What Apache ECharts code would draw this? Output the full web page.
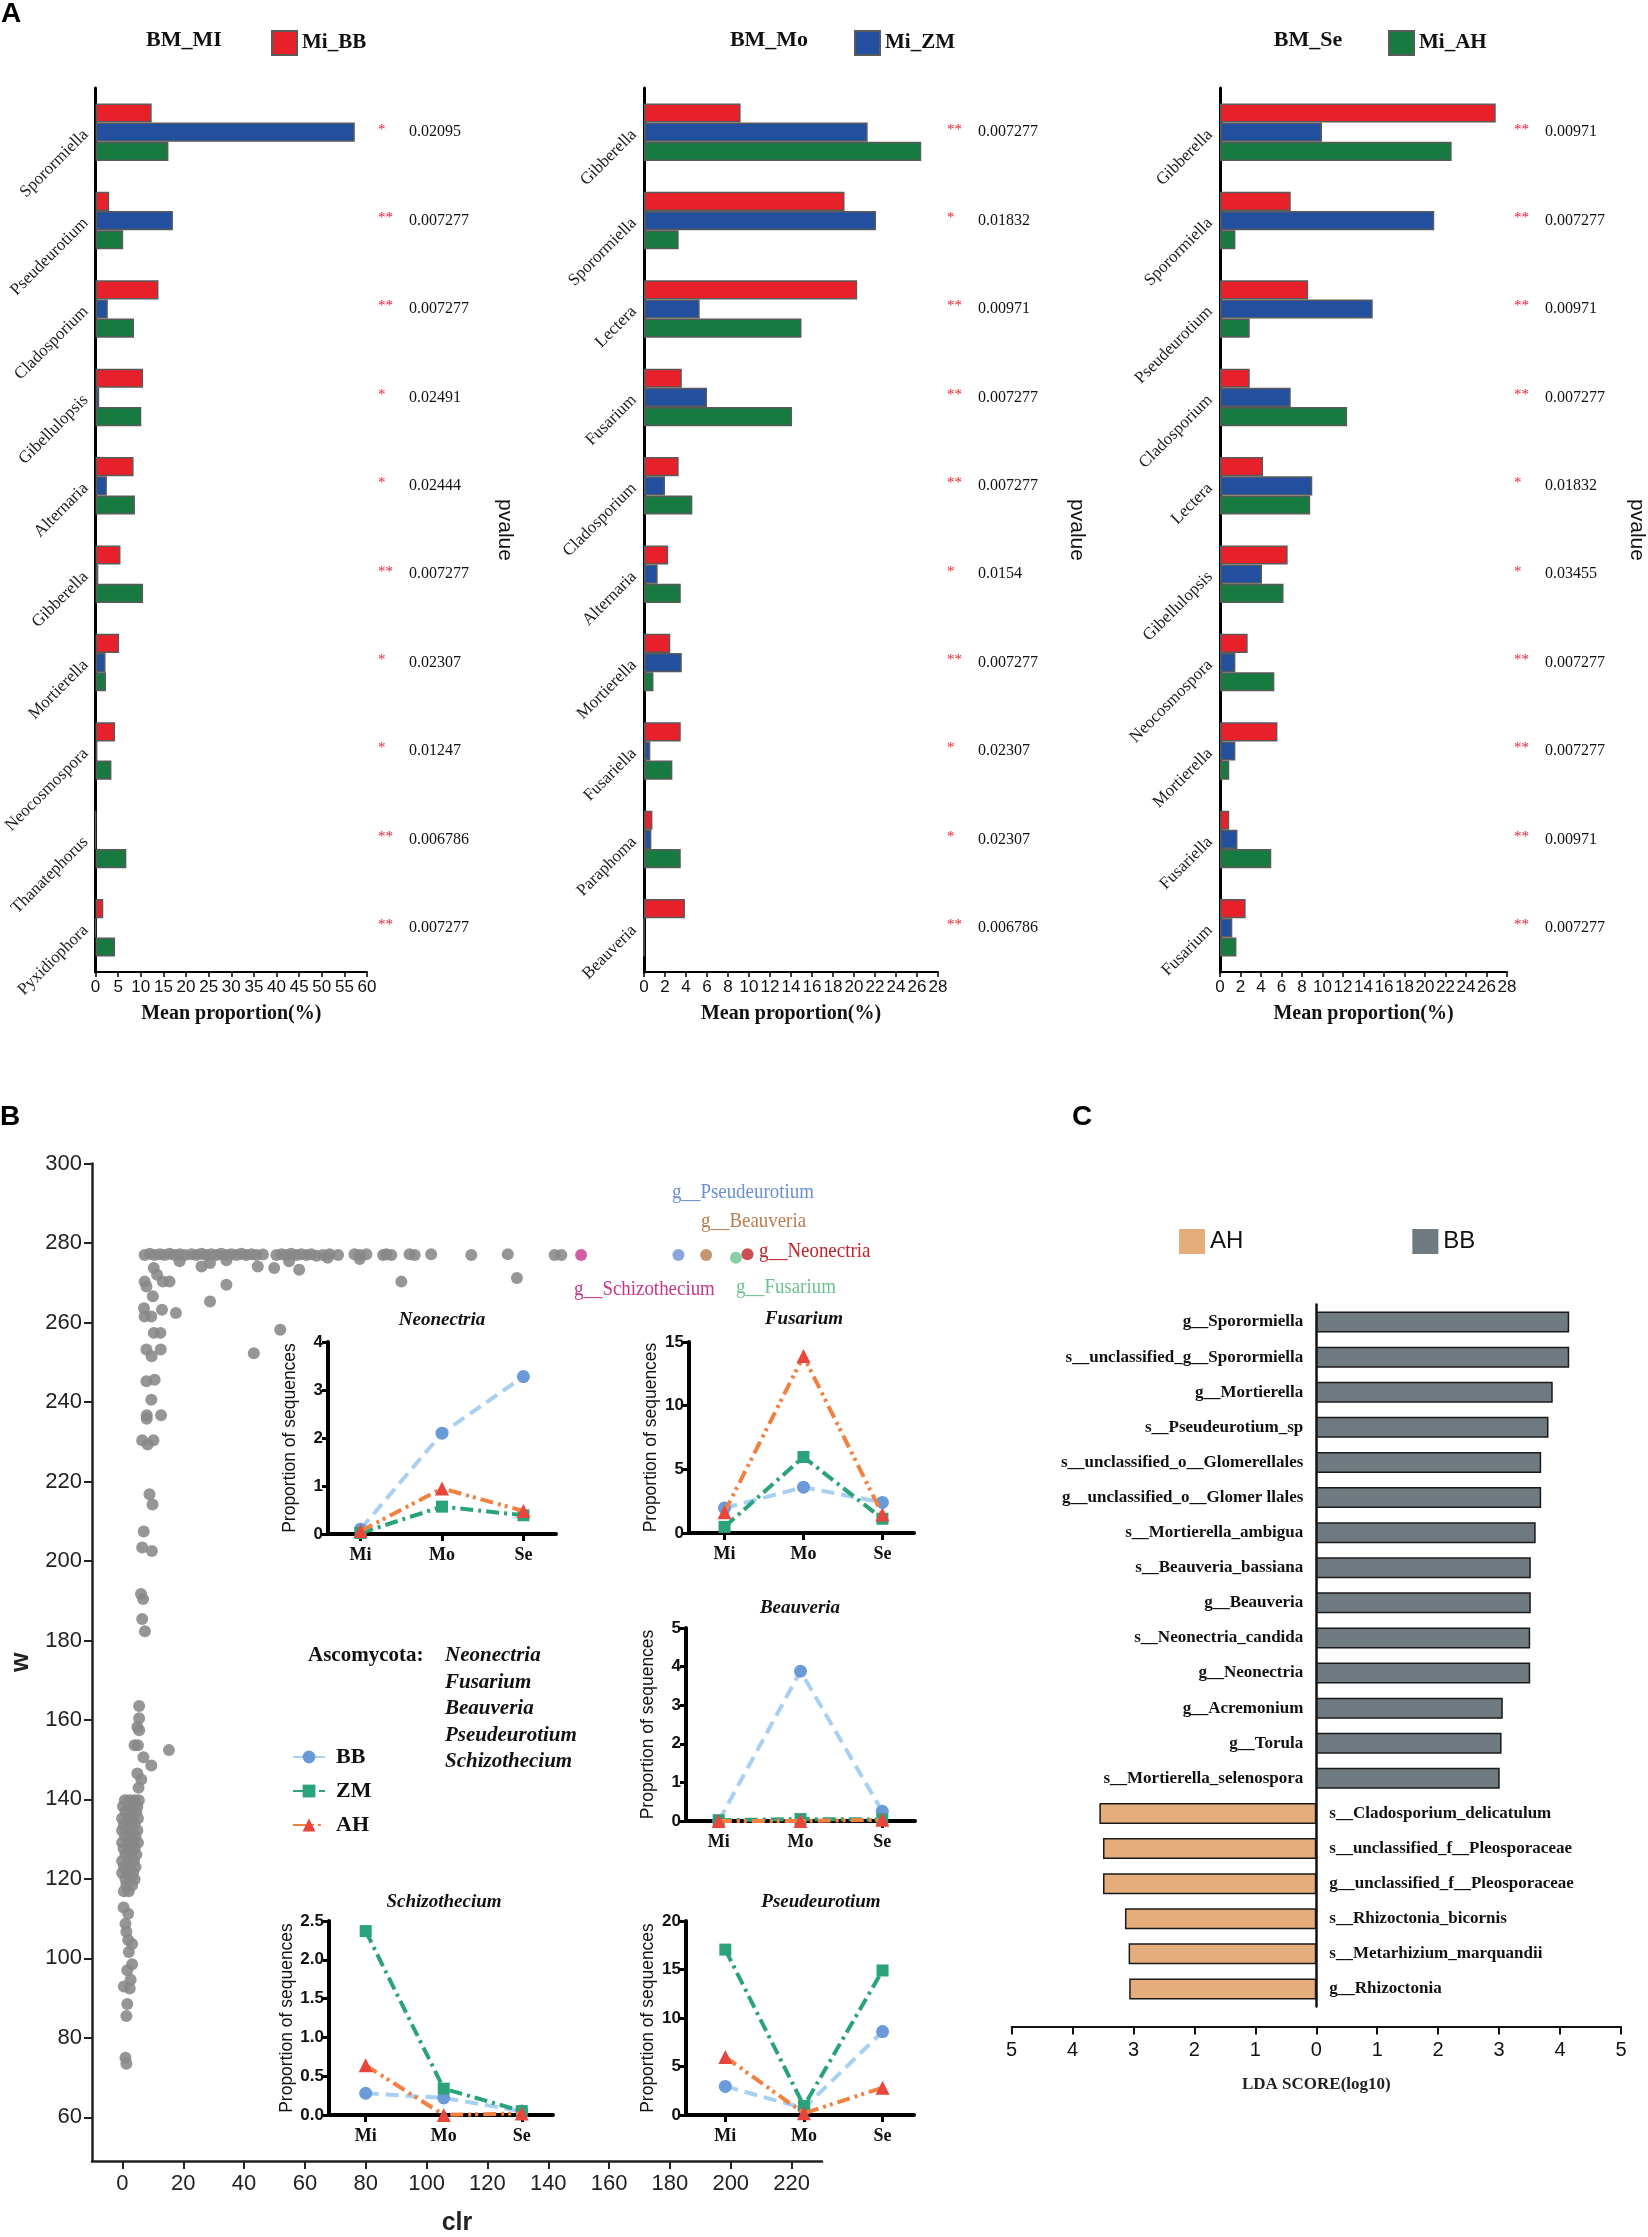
<!DOCTYPE html>
<html>
<head>
<meta charset="utf-8">
<script src="https://cdn.jsdelivr.net/npm/echarts@6/dist/echarts.min.js"></script>
<style>
  html, body { margin: 0; padding: 0; background: #fff; }
  #main { width: 1648px; height: 2237px; }
</style>
</head>
<body>
<div id="main"></div>
<script>
// ---------- data: panel A (mean proportion %, three comparisons) ----------
var miGenera = ['Sporormiella', 'Pseudeurotium', 'Cladosporium', 'Gibellulopsis', 'Alternaria', 'Gibberella', 'Mortierella', 'Neocosmospora', 'Thanatephorus', 'Pyxidiophora'];
var miBB = [12.4, 3.0, 13.9, 10.5, 8.4, 5.5, 5.2, 4.3, 0, 1.7];
var miZM = [57.3, 17.1, 2.7, 0.8, 2.5, 0.6, 2.2, 0.4, 0, 0];
var miAH = [16.1, 6.1, 8.5, 10.1, 8.7, 10.5, 2.3, 3.5, 6.8, 4.3];
var miP = ['0.02095', '0.007277', '0.007277', '0.02491', '0.02444', '0.007277', '0.02307', '0.01247', '0.006786', '0.007277'];

var moGenera = ['Gibberella', 'Sporormiella', 'Lectera', 'Fusarium', 'Cladosporium', 'Alternaria', 'Mortierella', 'Fusariella', 'Paraphoma', 'Beauveria'];
var moBB = [9.2, 19.1, 20.3, 3.6, 3.3, 2.3, 2.5, 3.5, 0.8, 3.9];
var moZM = [21.3, 22.1, 5.3, 6.0, 2.0, 1.3, 3.6, 0.6, 0.7, 0];
var moAH = [26.4, 3.3, 15.0, 14.1, 4.6, 3.5, 0.9, 2.7, 3.5, 0];
var moP = ['0.007277', '0.01832', '0.00971', '0.007277', '0.007277', '0.0154', '0.007277', '0.02307', '0.02307', '0.006786'];

var seGenera = ['Gibberella', 'Sporormiella', 'Pseudeurotium', 'Cladosporium', 'Lectera', 'Gibellulopsis', 'Neocosmospora', 'Mortierella', 'Fusariella', 'Fusarium'];
var seBB = [26.9, 6.9, 8.6, 2.9, 4.2, 6.6, 2.7, 5.6, 0.9, 2.5];
var seZM = [9.95, 20.9, 14.9, 6.9, 9.0, 4.1, 1.5, 1.5, 1.7, 1.2];
var seAH = [22.6, 1.5, 2.9, 12.4, 8.8, 6.2, 5.3, 0.9, 5.0, 1.6];
var seP = ['0.00971', '0.007277', '0.00971', '0.007277', '0.01832', '0.03455', '0.007277', '0.007277', '0.00971', '0.007277'];

// ---------- data: panel B (clr vs w scatter) ----------
var scatterRow = [[7.3,277],[9.0,277.3],[10.6,277],[12.3,277.2],[13.9,277],[15.5,277.3],[17.2,277],[18.8,277.2],[20.5,277],[22.7,277.2],
  [24.3,277],[26.0,277.3],[27.6,277],[29.2,277.2],[30.9,277],[32.5,277.3],[34.2,277],[35.8,277.2],[37.5,277],[39.1,277.3],
  [40.7,277],[42.4,277.2],[44.0,277],[46.2,277.1],[50.6,277],[52.3,277.2],[53.9,277],[55.5,277.3],[57.2,277],[58.8,277.2],
  [60.5,277],[62.1,277.2],[63.8,276.8],[66.0,277],[68.1,277.2],[70.9,277],[76.3,277.2],[78.0,277],[80.2,277.2],[85.7,277],
  [86.8,277.2],[88.4,277],[94.4,277.2],[96.1,277],[101.5,277.2],[114.7,277],[126.7,277.2],[142.1,277],[144.3,277]];
var scatterNearRow = [[10.3,273.7],[11.4,272.0],[7.3,270.3],[7.9,269.1],[13.3,270.3],[15.5,270.3],[18.8,275.4],[26.0,274.1],
  [28.8,275.0],[34.2,275.7],[44.5,274.1],[49.9,273.7],[54.8,275.4],[58.1,273.3],[67.5,276.3],[78.0,276.0],[34.2,269.5],
  [28.8,265.3],[91.7,270.3],[129.7,271.2],[51.9,258.2],[43.2,252.3]];
var scatterColumn = [[10.0,266.6],[7.1,263.6],[7.3,261.5],[9.5,261.5],[13.0,263.2],[17.6,262.4],[10.3,257.4],[12.5,257.4],
  [7.9,253.2],[12.6,253.2],[9.6,251.5],[7.9,245.2],[10.6,245.6],[9.5,240.6],[8.0,236.7],[12.7,236.7],[8.0,235.8],[6.5,230.4],
  [10.2,230.4],[8.3,229.3],[8.9,216.8],[9.9,214.2],[7.0,207.4],[6.5,203.4],[9.7,202.5],[6.1,191.7],[6.8,190.4],[6.5,185.4],
  [7.4,182.3],[5.5,163.5],[5.5,160.4],[4.9,158.2],[5.5,157.4],[4.0,153.6],[5.1,153.6],[6.9,150.6],[9.5,148.5],[15.3,152.4],
  [4.9,146.5],[6.2,145.0],[5.3,142.9]];
var scatterCluster = [[0.8,139.8],[2.4,139.8],[4.0,139.8],[5.4,139.8],[0.2,138.3],[1.9,138.3],[3.5,138.3],[4.9,138.3],
  [1.0,136.8],[2.9,136.8],[4.6,136.8],[-0.1,135.2],[1.6,135.2],[3.5,135.2],[5.1,135.2],[0.5,133.7],[2.4,133.7],[4.0,133.7],
  [-0.1,132.2],[1.3,132.2],[3.2,132.2],[4.9,132.2],[0.8,130.6],[2.7,130.6],[4.3,130.6],[-0.1,129.1],[1.9,129.1],[3.5,129.1],
  [5.1,129.1],[0.4,127.6],[2.4,127.6],[4.0,127.6],[1.0,126.1],[2.9,126.1],[4.6,126.1],[-0.1,124.5],[1.9,124.5],[3.8,124.5],
  [0.5,123.0],[2.4,123.0],[4.3,123.0],[-0.1,121.5],[1.6,121.5],[3.5,121.5],[1.0,119.9],[2.7,119.9],[4.0,119.9],[1.3,118.4],
  [3.2,118.4],[0.5,116.9],[2.1,116.9]];
var scatterTail = [[0.4,112.8],[1.9,111.2],[1.0,108.7],[1.3,106.7],[1.9,104.6],[3.2,103.6],[2.1,101.6],[3.2,98.5],[1.6,97.0],
  [2.7,94.6],[0.5,92.9],[2.4,92.4],[1.6,88.5],[1.3,85.5],[1.0,75.0],[1.3,73.5]];
var hlGenera = ['g__Schizothecium', 'g__Pseudeurotium', 'g__Beauveria', 'g__Fusarium', 'g__Neonectria'];
var hlX = [150.8, 182.8, 191.9, 201.7, 205.5];
var hlY = [277.0, 277.0, 277.0, 276.3, 277.2];
var clrTicks = [0, 20, 40, 60, 80, 100, 120, 140, 160, 180, 200, 220];
var wTicks = [60, 80, 100, 120, 140, 160, 180, 200, 220, 240, 260, 280, 300];

// ---------- data: panel B insets (proportion of sequences) ----------
var stages = ['Mi', 'Mo', 'Se'];
var insetGenera = ['Neonectria', 'Fusarium', 'Beauveria', 'Schizothecium', 'Pseudeurotium'];
var neoBB = [0.1, 2.1, 3.28],   neoZM = [0.02, 0.57, 0.39], neoAH = [0.06, 0.95, 0.48];
var fusBB = [1.96, 3.6, 2.4],   fusZM = [0.48, 5.97, 1.12], fusAH = [1.63, 13.9, 1.46];
var beaBB = [0, 3.88, 0.25],    beaZM = [0.02, 0.05, 0.04], beaAH = [0, 0, 0.03];
var schBB = [0.28, 0.22, 0.05], schZM = [2.37, 0.34, 0.05], schAH = [0.64, 0, 0.02];
var pseBB = [2.95, 0.7, 8.6],   pseZM = [17.05, 0.93, 14.9], pseAH = [5.98, 0.17, 2.82];
var insetYMax = [4, 15, 5, 2.5, 20];
var insetYStep = [1, 5, 1, 0.5, 5];
var ascoList = ['Neonectria', 'Fusarium', 'Beauveria', 'Pseudeurotium', 'Schizothecium'];

// ---------- data: panel C (LDA score) ----------
var ldaTaxa = ['g__Sporormiella', 's__unclassified_g__Sporormiella', 'g__Mortierella', 's__Pseudeurotium_sp',
  's__unclassified_o__Glomerellales', 'g__unclassified_o__Glomer llales', 's__Mortierella_ambigua', 's__Beauveria_bassiana',
  'g__Beauveria', 's__Neonectria_candida', 'g__Neonectria', 'g__Acremonium', 'g__Torula', 's__Mortierella_selenospora',
  's__Cladosporium_delicatulum', 's__unclassified_f__Pleosporaceae', 'g__unclassified_f__Pleosporaceae',
  's__Rhizoctonia_bicornis', 's__Metarhizium_marquandii', 'g__Rhizoctonia'];
var ldaBB = [4.15, 4.15, 3.88, 3.81, 3.69, 3.69, 3.6, 3.52, 3.52, 3.51, 3.51, 3.06, 3.04, 3.01];
var ldaAH = [3.56, 3.5, 3.5, 3.14, 3.08, 3.07];

// ---------- styling ----------
var SERIF = '"Liberation Serif","Times New Roman",serif';
var SANS = '"Liberation Sans",Arial,sans-serif';
var NARROW = '"Liberation Sans Narrow","Arial Narrow","Liberation Sans",sans-serif';

var chart = echarts.init(document.getElementById('main'));
var grid = [], xAxis = [], yAxis = [], pAxes = [], series = [], legend = [], graphic = [];

function txt(x, y, text, size, color, opts) {
  opts = opts || {};
  return {
    type: 'text', x: x, y: y, scaleX: opts.scaleX || 1,
    style: {
      text: text, fill: color, fontSize: size, fontFamily: opts.family || SERIF,
      fontWeight: opts.weight || 'normal', fontStyle: opts.style || 'normal',
      textAlign: opts.align || 'left', align: opts.align || 'left',
      textVerticalAlign: 'middle', verticalAlign: 'middle'
    }
  };
}

// ---------- panel A ----------
var groupNames = ['Mi_BB', 'Mi_ZM', 'Mi_AH'];
var groupColors = ['#e8202a', '#22509f', '#177a40'];
var aSets = [
  { title: 'BM_MI', key: 'Mi_BB', genera: miGenera, vals: [miBB, miZM, miAH], p: miP, max: 60, step: 5 },
  { title: 'BM_Mo', key: 'Mi_ZM', genera: moGenera, vals: [moBB, moZM, moAH], p: moP, max: 28, step: 2 },
  { title: 'BM_Se', key: 'Mi_AH', genera: seGenera, vals: [seBB, seZM, seAH], p: seP, max: 28, step: 2 }
];
var aLayout = [
  { left: 95, width: 272, starGap: 11, nameGap: 127, titleX: 184, legendX: 266 },
  { left: 644, width: 294, starGap: 9, nameGap: 128, titleX: 769, legendX: 849 },
  { left: 1220, width: 289, starGap: 7, nameGap: 119, titleX: 1308, legendX: 1383 }
];

aSets.forEach(function (s, i) {
  var L = aLayout[i];
  grid.push({ left: L.left, top: 88, width: L.width, height: 884 });
  xAxis.push({
    type: 'value', gridIndex: i, min: 0, max: s.max, interval: s.step,
    splitLine: { show: false },
    axisLine: { show: true, onZero: false, lineStyle: { color: '#000', width: 2 } },
    axisTick: { show: true, length: 5, lineStyle: { color: '#000', width: 1.5 } },
    axisLabel: { fontFamily: SANS, fontSize: 17, color: '#111', margin: 7 },
    name: 'Mean proportion(%)', nameLocation: 'middle', nameGap: 32,
    nameTextStyle: { fontFamily: SERIF, fontWeight: 'bold', fontSize: 20, color: '#111' }
  });
  yAxis.push({
    type: 'category', gridIndex: i, inverse: true, data: s.genera,
    axisLine: { show: true, lineStyle: { color: '#000', width: 3 } },
    axisTick: { show: false },
    axisLabel: { interval: 0, rotate: 45, margin: 10, fontFamily: SERIF, fontSize: 17, color: '#222' }
  });
  pAxes.push({
    type: 'category', gridIndex: i, position: 'right', inverse: true, data: s.p,
    axisLine: { show: false }, axisTick: { show: false }, splitLine: { show: false },
    axisLabel: {
      interval: 0, margin: L.starGap,
      formatter: function (v, idx) {
        var pv = s.p[idx];
        return '{s|' + (parseFloat(pv) < 0.01 ? '**' : '*') + '}{v|' + pv + '}';
      },
      rich: {
        s: { width: 31, color: '#e8202a', fontFamily: SERIF, fontSize: 15, padding: [0, 0, 5, 0] },
        v: { fontFamily: SERIF, fontSize: 16, color: '#111' }
      }
    },
    name: 'pvalue', nameLocation: 'middle', nameRotate: -90, nameGap: L.nameGap,
    nameTextStyle: { fontFamily: SANS, fontSize: 21, color: '#111' }
  });
  s.vals.forEach(function (v, k) {
    series.push({
      type: 'bar', name: groupNames[k], xAxisIndex: i, yAxisIndex: i, data: v,
      barGap: '0%', barCategoryGap: '35%',
      itemStyle: { color: groupColors[k], borderColor: '#5a5a5a', borderWidth: 1.5 }
    });
  });
  legend.push({
    data: [s.key], left: L.legendX, top: 25, icon: 'rect', itemWidth: 25, itemHeight: 24,
    selectedMode: false,
    textStyle: { fontFamily: SERIF, fontWeight: 'bold', fontSize: 21, color: '#111' }
  });
  graphic.push(txt(L.titleX, 40, s.title, 22, '#111', { weight: 'bold', align: 'center' }));
});
graphic.push(txt(1, 14, 'A', 28, '#000', { family: SANS, weight: 'bold' }));

// ---------- panel B scatter ----------
grid.push({ left: 92, top: 1163.6, width: 730, height: 999 });
xAxis.push({
  type: 'value', gridIndex: 3, min: -10, max: 230, splitLine: { show: false },
  axisLine: { show: true, onZero: false, lineStyle: { color: '#222', width: 2.5 } },
  axisTick: { show: true, customValues: clrTicks, length: 8, lineStyle: { color: '#222', width: 2 } },
  axisLabel: { customValues: clrTicks, fontFamily: NARROW, fontSize: 22, color: '#222', margin: 12 },
  name: 'clr', nameLocation: 'middle', nameGap: 50,
  nameTextStyle: { fontFamily: SANS, fontWeight: 'bold', fontSize: 25, color: '#222' }
});
yAxis.push({
  type: 'value', gridIndex: 3, min: 49, max: 300, splitLine: { show: false },
  axisLine: { show: true, onZero: false, lineStyle: { color: '#222', width: 2.5 } },
  axisTick: { show: true, customValues: wTicks, length: 8, lineStyle: { color: '#222', width: 2 } },
  axisLabel: { customValues: wTicks, fontFamily: NARROW, fontSize: 22, color: '#222', margin: 10 },
  name: 'w', nameLocation: 'middle', nameGap: 58, nameRotate: 90,
  nameTextStyle: { fontFamily: SANS, fontWeight: 'bold', fontSize: 25, color: '#222' }
});
series.push({
  type: 'scatter', name: 'genus', xAxisIndex: 3, yAxisIndex: 3, symbolSize: 12,
  data: scatterRow.concat(scatterNearRow, scatterColumn, scatterCluster, scatterTail),
  itemStyle: { color: '#888888', opacity: 0.88 }
});
var hlColors = ['#c7368b', '#6a8fd3', '#b87c4f', '#6cc38f', '#c0232b'];
series.push({
  type: 'scatter', name: 'highlight', xAxisIndex: 3, yAxisIndex: 3, symbolSize: 12,
  data: hlX.map(function (x, i) { return { name: hlGenera[i], value: [x, hlY[i]], itemStyle: { color: hlColors[i] } }; })
});
graphic.push(txt(0, 1117, 'B', 28, '#000', { family: SANS, weight: 'bold' }));
var hlLabelPos = [[574, 1289], [672, 1192], [701, 1221], [736, 1287], [759, 1251]];
hlGenera.forEach(function (g, i) {
  graphic.push(txt(hlLabelPos[i][0], hlLabelPos[i][1], g, 22, hlColors[i], { scaleX: 0.86 }));
});

// ---------- panel B insets ----------
var insetVals = [[neoBB, neoZM, neoAH], [fusBB, fusZM, fusAH], [beaBB, beaZM, beaAH], [schBB, schZM, schAH], [pseBB, pseZM, pseAH]];
var insetLayout = [
  { left: 328, top: 1342, width: 228, height: 192, xmin: -0.4, titleX: 442, titleY: 1320 },
  { left: 689, top: 1342, width: 225, height: 191, xmin: -0.45, titleX: 804, titleY: 1319 },
  { left: 686, top: 1628, width: 229, height: 193, xmin: -0.4, titleX: 800, titleY: 1608 },
  { left: 329, top: 1921, width: 224, height: 194, xmin: -0.47, titleX: 444, titleY: 1902 },
  { left: 686, top: 1921, width: 228, height: 194, xmin: -0.5, titleX: 821, titleY: 1902 }
];
var lineNames = ['BB', 'ZM', 'AH'];
var lineSymbols = ['circle', 'rect', 'triangle'];
var lineSizes = [13, 12, 14];
var lineColors = ['#a8d0f2', '#2aa37a', '#f28040'];
var markColors = ['#6a9ad8', '#2aa37a', '#e8453c'];
var lineDash = [[13, 7], [13, 5, 3, 5], [13, 5, 3, 4, 3, 5]];

insetGenera.forEach(function (g, j) {
  var L = insetLayout[j], gi = 4 + j;
  grid.push({ left: L.left, top: L.top, width: L.width, height: L.height });
  xAxis.push({
    type: 'value', gridIndex: gi, min: L.xmin, max: 2.4, splitLine: { show: false },
    axisLine: { show: true, onZero: false, lineStyle: { color: '#000', width: 4 } },
    axisTick: { show: true, customValues: [0, 1, 2], length: 7, lineStyle: { color: '#000', width: 3 } },
    axisLabel: {
      customValues: [0, 1, 2], margin: 12, fontFamily: SERIF, fontWeight: 'bold', fontSize: 18, color: '#111',
      formatter: function (v) { return stages[Math.round(v)]; }
    }
  });
  yAxis.push({
    type: 'value', gridIndex: gi, min: 0, max: insetYMax[j], interval: insetYStep[j], splitLine: { show: false },
    axisLine: { show: true, onZero: false, lineStyle: { color: '#000', width: 4 } },
    axisTick: { show: true, length: 6, lineStyle: { color: '#000', width: 3 } },
    axisLabel: {
      fontFamily: NARROW, fontWeight: 'bold', fontSize: 17, color: '#111', margin: 5,
      formatter: function (v) { return insetYStep[j] < 1 ? v.toFixed(1) : String(v); }
    },
    name: 'Proportion of sequences', nameLocation: 'middle', nameGap: 29,
    nameTextStyle: { fontFamily: SANS, fontSize: 17.5, color: '#111' }
  });
  insetVals[j].forEach(function (vals, k) {
    series.push({
      type: 'line', name: lineNames[k], xAxisIndex: gi, yAxisIndex: gi, clip: false,
      data: vals.map(function (v, t) { return [t, v]; }),
      symbol: lineSymbols[k], symbolSize: lineSizes[k], z: 3 + k,
      lineStyle: { color: lineColors[k], width: 4, type: lineDash[k] },
      itemStyle: { color: markColors[k] }
    });
  });
  graphic.push(txt(L.titleX, L.titleY, g, 19, '#111', { weight: 'bold', style: 'italic', align: 'center' }));
});
legend.push({
  data: lineNames, orient: 'vertical', left: 287, top: 1741, itemWidth: 32, itemHeight: 16, itemGap: 12,
  selectedMode: false,
  textStyle: { fontFamily: SERIF, fontWeight: 'bold', fontSize: 22, color: '#111', padding: [0, 0, 0, 6] }
});
graphic.push(txt(308, 1656, 'Ascomycota:', 21, '#111', { weight: 'bold' }));
ascoList.forEach(function (g, i) {
  graphic.push(txt(445, 1656 + i * 26.5, g, 21, '#111', { weight: 'bold', style: 'italic' }));
});

// ---------- panel C ----------
grid.push({ left: 1011.6, top: 1304.5, width: 609.4, height: 702 });
xAxis.push({
  type: 'value', gridIndex: 9, min: -5, max: 5, interval: 1, offset: 20, splitLine: { show: false },
  axisLine: { show: true, onZero: false, lineStyle: { color: '#111', width: 2 } },
  axisTick: { show: true, length: 8, lineStyle: { color: '#111', width: 2 } },
  axisLabel: { fontFamily: SANS, fontSize: 20, color: '#111', margin: 14, formatter: function (v) { return Math.abs(v); } },
  name: 'LDA SCORE(log10)', nameLocation: 'middle', nameGap: 50,
  nameTextStyle: { fontFamily: SERIF, fontWeight: 'bold', fontSize: 17, color: '#222' }
});
yAxis.push({
  type: 'category', gridIndex: 9, inverse: true, data: ldaTaxa,
  axisLine: { show: true, onZero: true, lineStyle: { color: '#111', width: 2.5 } },
  axisTick: { show: false }, axisLabel: { show: false }
});
var ldaLabel = { show: true, formatter: '{b}', fontFamily: SERIF, fontWeight: 'bold', fontSize: 17, color: '#111' };
series.push({
  type: 'bar', name: 'LDA_AH', xAxisIndex: 9, yAxisIndex: 9, stack: 'lda', barWidth: 21,
  data: ldaTaxa.map(function (t, i) { return i < ldaBB.length ? '-' : -ldaAH[i - ldaBB.length]; }),
  itemStyle: { color: '#e5ad7b', borderColor: '#1a1a1a', borderWidth: 1.5 },
  label: Object.assign({ position: 'right', distance: 13 }, ldaLabel)
});
series.push({
  type: 'bar', name: 'LDA_BB', xAxisIndex: 9, yAxisIndex: 9, stack: 'lda', barWidth: 21,
  data: ldaTaxa.map(function (t, i) { return i < ldaBB.length ? ldaBB[i] : '-'; }),
  itemStyle: { color: '#707b81', borderColor: '#1a1a1a', borderWidth: 1.5 },
  label: Object.assign({ position: 'left', distance: 13 }, ldaLabel)
});
legend.push({
  data: ['LDA_AH', 'LDA_BB'], left: 1174, top: 1224, icon: 'rect', itemWidth: 26, itemHeight: 25, itemGap: 169,
  selectedMode: false, itemStyle: { borderWidth: 0 },
  formatter: function (n) { return n.replace('LDA_', ''); },
  textStyle: { fontFamily: SANS, fontSize: 24, color: '#111' }
});
graphic.push(txt(1072, 1117, 'C', 28, '#000', { family: SANS, weight: 'bold' }));

chart.setOption({
  backgroundColor: '#fff',
  animation: false,
  grid: grid,
  xAxis: xAxis,
  yAxis: yAxis.concat(pAxes),
  legend: legend,
  graphic: { elements: graphic },
  series: series
});
</script>
</body>
</html>
